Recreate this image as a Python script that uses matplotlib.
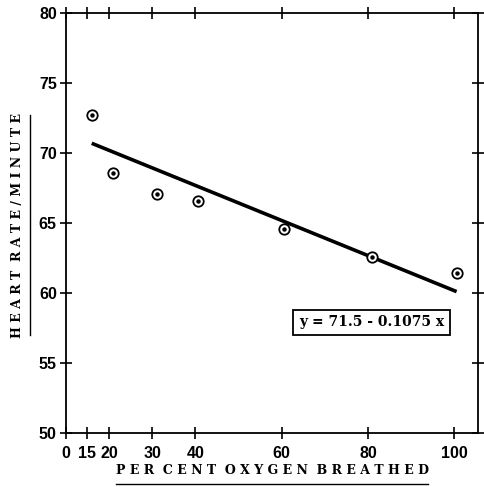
import matplotlib
matplotlib.use("Agg")
import matplotlib.pyplot as plt
from matplotlib.lines import Line2D

# readings
oxygen = [16, 21, 31, 40.5, 60.5, 81, 100.5]
heart_rate = [72.7, 68.6, 67.1, 66.6, 64.6, 62.6, 61.4]

# fitted line as drawn
fit_x = [16, 100.5]
fit_y = [70.7, 60.1]

xticks = [10, 15, 20, 30, 40, 60, 80, 100]   # "0" sits just left of 15 (broken scale)
xticklabels = ["0", "15", "20", "30", "40", "60", "80", "100"]
yticks = [50, 55, 60, 65, 70, 75, 80]

eq_text = "y = 71.5 - 0.1075 x"

def spaced(s):
    return "  ".join(" ".join(w) for w in s.split(" "))

fig = plt.figure(figsize=(4.84, 4.87), dpi=100)
ax = fig.add_axes([0.136, 0.111, 0.852, 0.862])

ax.plot(fit_x, fit_y, color="black", lw=2.6, solid_capstyle="butt")
ax.plot(oxygen, heart_rate, "o", ms=7.5, mfc="white", mec="black", mew=1.3)
ax.plot(oxygen, heart_rate, "o", ms=2.2, color="black")

ax.set_xlim(10, 105.5)
ax.set_ylim(50, 80)
ax.set_xticks(xticks)
ax.set_xticklabels(xticklabels)
ax.set_yticks(yticks)

for s in ax.spines.values():
    s.set_linewidth(1.3)

ax.tick_params(axis="both", which="major", direction="inout", length=9, width=1.2,
               labelsize=11.5, pad=2)
ax.tick_params(top=True, right=True)
for lab in ax.get_xticklabels() + ax.get_yticklabels():
    lab.set_fontweight("bold")
    lab.set_family("Liberation Sans")
ax.tick_params(axis="x", pad=5)

ax.text(80.8, 57.9, eq_text, ha="center", va="center", fontsize=10,
        family="DejaVu Serif", fontweight="bold",
        bbox=dict(boxstyle="square,pad=0.4", fc="white", ec="black", lw=1.3))

fig.text(272 / 484, 1 - 471 / 487, spaced("PER CENT OXYGEN BREATHED"), ha="center",
         va="center", fontsize=9, family="DejaVu Serif", fontweight="bold")
fig.add_artist(Line2D([116 / 484, 428 / 484], [1 - 484 / 487, 1 - 484 / 487],
                      color="black", lw=1.0))

fig.text(18 / 484, 1 - 225 / 487, spaced("HEART RATE/MINUTE"), ha="center",
         va="center", rotation=90, fontsize=9, family="DejaVu Serif",
         fontweight="bold")
fig.add_artist(Line2D([30 / 484, 30 / 484], [1 - 115 / 487, 1 - 335 / 487],
                      color="black", lw=1.0))

fig.savefig("out.png", dpi=100)
